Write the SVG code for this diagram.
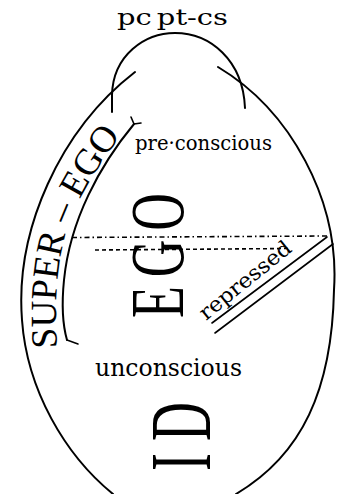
<svg xmlns="http://www.w3.org/2000/svg" width="337" height="494" viewBox="0 0 337 494">
<style>
.ln{fill:none;stroke:#000;stroke-width:2;stroke-linecap:round}
.thin{fill:none;stroke:#000;stroke-width:1.6;stroke-linecap:round}
.lbl{font-family:"DejaVu Serif","Liberation Serif",serif;fill:#000}
.big{font-family:"Liberation Serif",serif;fill:#000}
</style>
<defs>
<path id="sePath" d="M 57,348 C 54,300 57,252 72,216 C 85,186 103,158 130,124"/>
</defs>
<rect width="337" height="494" fill="#fff"/>
<g id="outline">
<path class="ln" d="M135,72 C 60,130 15,230 22,320 C 27,390 65,455 113,494"/>
<path class="ln" d="M218,67 C 290,110 340,200 334,290 C 332,390 302,455 236,494"/>
</g>
<g id="perception">
<path class="ln" d="M112,112 L112,95 C 113,55 145,33 175,33 C 210,33 243,60 245,108"/>
<text class="lbl" x="117" y="25" font-size="23" textLength="111" lengthAdjust="spacingAndGlyphs">pc<tspan dx="4">pt-cs</tspan></text>
</g>
<g id="superego">
<path class="ln" d="M134,124 C 100,165 70,220 64,280 C 61,310 63,326 67,340"/>
<path class="thin" d="M134,124 L131,117 M134,124 L141,123 M67,340 L78,344"/>
<text class="big" font-size="37"><textPath href="#sePath">SUPER – EGO</textPath></text>
</g>
<g id="preconscious">
<text class="lbl" x="135" y="150" font-size="21" textLength="137" lengthAdjust="spacingAndGlyphs">pre·conscious</text>
</g>
<g id="connectors">
<line x1="72" y1="237.5" x2="327" y2="236" stroke="#000" stroke-width="1.6" stroke-dasharray="5 3 1.5 3"/>
<line x1="95" y1="250" x2="290" y2="248.5" stroke="#000" stroke-width="1.6" stroke-dasharray="4 3"/>
<line class="thin" x1="327" y1="237" x2="212" y2="323"/>
<line class="thin" x1="333" y1="244" x2="215" y2="333"/>
</g>
<g id="repressed">
<text class="lbl" font-size="21" textLength="112" lengthAdjust="spacingAndGlyphs" transform="translate(206,321) rotate(-39)">repressed</text>
</g>
<g id="ego">
<text class="big" font-size="52" letter-spacing="9" transform="translate(183,318) rotate(-90) scale(1,1.48)">EGO</text>
</g>
<g id="unconscious">
<text class="lbl" x="95" y="376" font-size="24" textLength="147" lengthAdjust="spacingAndGlyphs">unconscious</text>
</g>
<g id="id">
<text class="big" font-size="54" letter-spacing="12" transform="translate(210,471) rotate(-90) scale(1,1.6)">ID</text>
</g>
</svg>
